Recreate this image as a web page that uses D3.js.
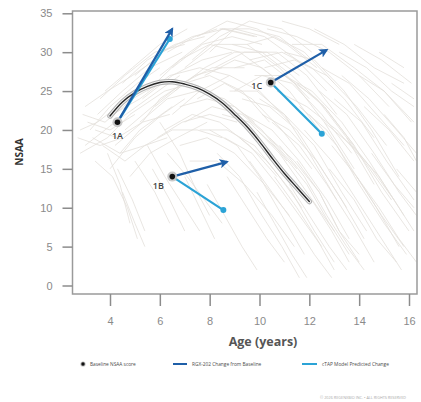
<!DOCTYPE html>
<html>
<head>
<meta charset="utf-8">
<script src="https://cdn.jsdelivr.net/npm/d3@7.9.0/dist/d3.min.js"></script>
<style>
  body { margin: 0; background: #fff; }
  svg { display: block; font-family: "Open Sans", "Noto Sans", sans-serif; }
</style>
</head>
<body>
<svg id="chart" width="421" height="402"></svg>
<script>
// tick labels
const xTicks = [4, 6, 8, 10, 12, 14, 16];
const yTicks = [0, 5, 10, 15, 20, 25, 30, 35];

// natural history trajectories (age, NSAA)
const history = [
  [[3.0,18],[4.2,21],[5.5,24],[6.8,27]],
  [[3.2,20],[4.0,23],[5.1,26],[6.0,28]],
  [[2.8,17],[3.9,19],[4.8,22],[6.2,25],[7.3,26]],
  [[3.5,22],[4.5,25],[5.6,28],[6.9,30]],
  [[4.0,15],[5.0,19],[6.1,22],[7.0,24]],
  [[3.3,19],[4.4,17],[5.2,20],[6.5,23]],
  [[4.5,26],[5.5,29],[6.6,31],[7.8,32]],
  [[3.6,24],[4.6,27],[5.8,30],[7.0,31]],
  [[4.2,18],[5.3,21],[6.0,24],[7.4,27],[8.5,28]],
  [[2.9,22],[3.8,21],[4.9,24],[6.0,26]],
  [[4.8,14],[5.6,17],[6.7,19],[7.9,21]],
  [[3.4,16],[4.1,14],[4.7,10],[5.1,6]],
  [[4.3,15],[4.9,11],[5.4,7]],
  [[5.0,16],[5.8,12],[6.4,8]],
  [[3.9,17],[4.4,13],[4.8,8]],
  [[5.5,18],[6.2,14],[7.0,10],[7.6,7]],
  [[6.0,21],[6.8,17],[7.5,12],[8.0,9]],
  [[5.5,25],[6.8,29],[8.0,31],[9.2,30],[10.5,27]],
  [[6.0,27],[7.2,30],[8.5,33],[9.8,32]],
  [[6.5,22],[7.6,25],[8.8,27],[10.0,25],[11.2,21]],
  [[7.0,28],[8.2,31],[9.5,31],[10.8,28],[12.0,24]],
  [[6.2,20],[7.3,22],[8.4,21],[9.6,18],[10.7,14]],
  [[7.5,24],[8.6,26],[9.7,24],[10.9,20],[12.1,15]],
  [[8.0,30],[9.0,33],[10.2,32],[11.5,29],[12.7,25]],
  [[5.8,23],[7.0,26],[8.0,27],[9.3,25],[10.4,21]],
  [[6.8,18],[7.9,19],[9.0,17],[10.2,13],[11.2,9]],
  [[7.2,16],[8.3,16],[9.4,13],[10.5,9],[11.4,5]],
  [[8.5,22],[9.6,21],[10.8,17],[11.9,12],[13.0,7]],
  [[8.0,20],[9.1,18],[10.0,14],[10.9,9],[11.8,4]],
  [[9.0,28],[10.2,29],[11.4,26],[12.6,21],[13.8,15]],
  [[9.5,31],[10.6,32],[11.8,30],[13.0,26]],
  [[10.0,24],[11.0,22],[12.2,18],[13.3,12],[14.3,7]],
  [[7.8,27],[9.0,29],[10.1,28],[11.2,25],[12.4,20]],
  [[8.8,25],[9.9,25],[11.0,22],[12.0,17],[13.1,11]],
  [[9.2,19],[10.3,16],[11.3,12],[12.2,7],[13.0,3]],
  [[8.3,17],[9.2,14],[10.1,9],[10.9,5],[11.6,1]],
  [[10.5,21],[11.6,18],[12.7,13],[13.7,8],[14.6,3]],
  [[9.8,27],[11.0,27],[12.3,24],[13.5,19],[14.6,13]],
  [[11.0,30],[12.2,29],[13.4,25],[14.5,20],[15.6,14]],
  [[11.5,26],[12.6,23],[13.8,18],[14.9,12],[16.0,7]],
  [[12.0,22],[13.1,18],[14.0,13],[15.0,8],[15.9,4]],
  [[10.8,18],[11.8,14],[12.7,9],[13.5,5],[14.2,2]],
  [[12.5,28],[13.6,26],[14.7,22],[15.8,18]],
  [[13.0,24],[14.1,21],[15.1,16],[16.2,11]],
  [[13.5,19],[14.5,15],[15.4,11],[16.2,7]],
  [[14.0,27],[15.0,25],[16.1,21]],
  [[12.8,15],[13.8,11],[14.7,6],[15.5,3]],
  [[11.2,13],[12.0,9],[12.8,5],[13.5,2]],
  [[9.9,12],[10.6,8],[11.3,4],[11.9,1]],
  [[7.5,32],[8.7,34],[9.9,33],[11.1,31],[12.3,28]],
  [[10.3,33],[11.5,32],[12.8,30],[14.0,27],[15.2,23]],
  [[6.3,30],[7.4,32],[8.3,33]],
  [[14.5,17],[15.4,13],[16.2,10]],
  [[15.0,22],[15.8,19],[16.3,16]],
  [[8.9,31],[10.1,30],[11.3,27],[12.6,23],[13.8,18]],
  [[7.0,21],[8.1,23],[9.3,22],[10.4,19],[11.5,15]],
  [[5.2,21],[6.3,24],[7.5,25],[8.6,24],[9.8,21]],
  [[11.8,20],[12.9,16],[13.9,11],[14.9,6],[15.7,2]],
  [[10.7,25],[11.9,23],[13.1,20],[14.2,16],[15.3,11]],
  [[9.4,22],[10.5,20],[11.6,16],[12.7,11],[13.6,6]],
  [[13.2,30],[14.3,28],[15.3,25],[16.2,23]],
  [[4.6,20],[5.7,23],[6.9,26],[8.1,28],[9.4,28]],
  [[3.1,21],[4.0,20],[5.0,22]],
  [[2.7,19],[3.6,18],[4.5,19]],
  [[3.8,25],[4.9,28],[6.0,31],[7.1,33]],
  [[5.0,27],[6.1,30],[7.3,32],[8.6,33],[9.9,32]],
  [[6.6,25],[7.8,28],[9.0,30],[10.3,30],[11.6,27]],
  [[7.3,29],[8.4,32],[9.6,34],[10.9,33],[12.1,30]],
  [[8.2,28],[9.4,30],[10.7,30],[11.9,27],[13.1,22]],
  [[9.0,25],[10.1,27],[11.3,26],[12.5,22],[13.7,17]],
  [[9.6,29],[10.9,30],[12.1,28],[13.4,24],[14.6,19]],
  [[10.2,28],[11.4,29],[12.7,27],[13.9,23],[15.1,18]],
  [[11.3,31],[12.5,31],[13.8,28],[15.0,25],[16.2,21]],
  [[12.2,33],[13.4,31],[14.6,28],[15.8,26]],
  [[10.9,34],[12.0,33],[13.2,31]],
  [[13.8,31],[14.9,29],[16.1,26]],
  [[12.4,25],[13.5,22],[14.6,17],[15.6,12],[16.3,9]],
  [[11.6,23],[12.7,20],[13.7,15],[14.7,10],[15.6,5]],
  [[10.4,19],[11.4,16],[12.4,12],[13.2,7],[14.0,4]],
  [[9.6,16],[10.5,12],[11.4,8],[12.2,4],[12.9,1]],
  [[8.7,14],[9.5,10],[10.3,6],[11.0,3]],
  [[7.9,13],[8.6,9],[9.3,5],[9.9,2]],
  [[7.0,14],[7.6,10],[8.2,6]],
  [[6.3,17],[7.1,14],[7.8,11],[8.5,8]],
  [[5.7,15],[6.4,11],[7.0,7]],
  [[4.5,12],[5.0,8],[5.4,5]],
  [[6.8,23],[7.9,24],[9.0,23],[10.1,20],[11.1,16]],
  [[7.6,20],[8.7,20],[9.8,18],[10.8,14],[11.7,10]],
  [[8.6,19],[9.7,17],[10.7,13],[11.6,9],[12.5,5]],
  [[9.3,24],[10.4,23],[11.5,20],[12.5,15],[13.5,10]],
  [[10.1,22],[11.2,20],[12.3,16],[13.3,11],[14.2,6]],
  [[11.0,27],[12.1,25],[13.3,21],[14.4,16],[15.4,11]],
  [[12.6,21],[13.7,18],[14.8,14],[15.8,9]],
  [[13.3,27],[14.4,24],[15.5,20],[16.3,17]],
  [[14.2,23],[15.2,20],[16.2,16]],
  [[13.9,14],[14.8,10],[15.6,6],[16.3,3]],
  [[12.9,18],[13.9,14],[14.9,9],[15.8,5]],
  [[14.8,30],[15.8,28]],
  [[15.3,26],[16.2,24]],
  [[5.3,24],[6.5,27],[7.7,29],[8.9,30]],
  [[4.1,22],[5.2,24],[6.4,27],[7.6,28],[8.8,27]],
  [[3.0,23],[3.9,25],[4.9,27],[5.8,29]],
  [[3.4,20],[4.3,19],[5.3,21],[6.4,22]],
  [[2.8,20],[3.5,21],[4.3,23]],
  [[3.7,18],[4.6,16],[5.4,18],[6.3,19]],
  [[5.9,19],[6.9,21],[8.0,22],[9.1,21]],
  [[4.4,17],[5.4,18],[6.5,20],[7.5,20],[8.5,19]],
  [[6.5,28],[7.7,31],[8.9,32],[10.1,31]],
  [[8.4,33],[9.6,33],[10.8,32],[12.0,29]],
  [[9.9,20],[10.9,17],[11.9,13],[12.8,8],[13.6,4]],
  [[11.5,16],[12.4,12],[13.2,7],[14.0,3]],
  [[10.6,14],[11.5,10],[12.3,6],[13.0,2]],
  [[12.1,11],[12.9,7],[13.6,3]],
  [[15.5,15],[16.3,12]]
];

// mean natural history curve
const meanAge   = [4.0, 4.5, 5.0, 5.5, 6.0, 6.5, 7.0, 7.5, 8.0, 8.5, 9.0, 9.5, 10.0, 10.5, 11.0, 11.5, 12.0];
const meanScore = [21.8, 23.6, 24.8, 25.6, 26.1, 26.2, 25.9, 25.4, 24.6, 23.5, 22.0, 20.4, 18.5, 16.4, 14.4, 12.6, 10.8];

// patients: baseline, RGX-202 change, model predicted change
const patients     = ['1A', '1B', '1C'];
const baseAge      = [4.3, 6.5, 10.45];
const baseScore    = [21, 14, 26.1];
const rgxAge       = [6.5, 8.7, 12.7];
const rgxScore     = [33, 15.9, 30.3];
const ctapAge      = [6.4, 8.55, 12.5];
const ctapScore    = [31.7, 9.7, 19.5];

const darkBlue = '#1f5fa8';
const lightBlue = '#2ba3d6';

const svg = d3.select('#chart');
const x = d3.scaleLinear().domain([4, 16]).range([110, 409]);
const y = d3.scaleLinear().domain([0, 35]).range([285.5, 13.3]);

const frame = { left: 72.5, top: 11, right: 417, bottom: 294 };

const defs = svg.append('defs');
defs.append('clipPath').attr('id', 'plot')
  .append('rect')
  .attr('x', frame.left).attr('y', frame.top)
  .attr('width', frame.right - frame.left).attr('height', frame.bottom - frame.top);
defs.append('marker')
  .attr('id', 'arrow')
  .attr('viewBox', '0 0 10 10')
  .attr('refX', 8).attr('refY', 5)
  .attr('markerWidth', 4.2).attr('markerHeight', 4.2)
  .attr('orient', 'auto')
  .append('path')
  .attr('d', 'M0,0 L10,5 L0,10 L2.5,5 Z')
  .attr('fill', darkBlue);

const plot = svg.append('g').attr('clip-path', 'url(#plot)');

// spaghetti
const line = d3.line().x(d => x(d[0])).y(d => y(d[1]));
plot.selectAll('path.hist')
  .data(history)
  .join('path')
  .attr('class', 'hist')
  .attr('d', line)
  .attr('fill', 'none')
  .attr('stroke', '#e3dfdb')
  .attr('stroke-width', 0.8);

// mean curve with band
const meanData = meanAge.map((a, i) => [a, meanScore[i]]);
const smooth = d3.line().x(d => x(d[0])).y(d => y(d[1])).curve(d3.curveCatmullRom);
plot.append('path').attr('d', smooth(meanData))
  .attr('fill', 'none').attr('stroke', '#b3b3b3').attr('stroke-width', 5.5).attr('stroke-linecap', 'round');
plot.append('path').attr('d', smooth(meanData))
  .attr('fill', 'none').attr('stroke', '#f4f4f4').attr('stroke-width', 3.4).attr('stroke-linecap', 'round');
plot.append('path').attr('d', smooth(meanData))
  .attr('fill', 'none').attr('stroke', '#262626').attr('stroke-width', 1.4).attr('stroke-linecap', 'round');

// frame and axes
svg.append('rect')
  .attr('x', frame.left).attr('y', frame.top)
  .attr('width', frame.right - frame.left).attr('height', frame.bottom - frame.top)
  .attr('fill', 'none').attr('stroke', '#9a9a9a').attr('stroke-width', 1.5);

const yAxis = svg.append('g')
  .attr('transform', `translate(${frame.left},0)`)
  .call(d3.axisLeft(y).tickValues(yTicks).tickSize(10).tickPadding(10));
const xAxis = svg.append('g')
  .attr('transform', `translate(0,${frame.bottom})`)
  .call(d3.axisBottom(x).tickValues(xTicks).tickSize(12).tickPadding(11));
[yAxis, xAxis].forEach(g => {
  g.select('.domain').remove();
  g.selectAll('line').attr('stroke', '#8c8c8c').attr('stroke-width', 1.5);
  g.selectAll('text').attr('fill', '#8a8a8a').attr('font-size', 11);
});

// axis titles
svg.append('text')
  .attr('transform', 'translate(23,152) rotate(-90)')
  .attr('text-anchor', 'middle')
  .attr('font-size', 10).attr('font-weight', 700).attr('fill', '#333')
  .text('NSAA');
svg.append('text')
  .attr('x', 263).attr('y', 346)
  .attr('text-anchor', 'middle')
  .attr('font-size', 12.5).attr('font-weight', 700).attr('fill', '#555')
  .text('Age (years)');

// patient changes
const pg = svg.append('g');
patients.forEach((p, i) => {
  pg.append('line')
    .attr('x1', x(baseAge[i])).attr('y1', y(baseScore[i]))
    .attr('x2', x(ctapAge[i])).attr('y2', y(ctapScore[i]))
    .attr('stroke', lightBlue).attr('stroke-width', 2.2);
  pg.append('circle')
    .attr('cx', x(ctapAge[i])).attr('cy', y(ctapScore[i])).attr('r', 3)
    .attr('fill', lightBlue);
  pg.append('line')
    .attr('x1', x(baseAge[i])).attr('y1', y(baseScore[i]))
    .attr('x2', x(rgxAge[i])).attr('y2', y(rgxScore[i]))
    .attr('stroke', darkBlue).attr('stroke-width', 2.2)
    .attr('marker-end', 'url(#arrow)');
  pg.append('circle')
    .attr('cx', x(baseAge[i])).attr('cy', y(baseScore[i])).attr('r', 5)
    .attr('fill', '#c4c4c4').attr('opacity', 0.9);
  pg.append('circle')
    .attr('cx', x(baseAge[i])).attr('cy', y(baseScore[i])).attr('r', 2.8)
    .attr('fill', '#111');
});
const labelPos = [[0, 17], [-14, 12], [-14, 6]];
patients.forEach((p, i) => {
  pg.append('text')
    .attr('x', x(baseAge[i]) + labelPos[i][0]).attr('y', y(baseScore[i]) + labelPos[i][1])
    .attr('text-anchor', 'middle')
    .attr('font-size', 9).attr('font-weight', 600).attr('fill', '#444')
    .text(p);
});

// legend
const lg = svg.append('g').attr('font-size', 4.8).attr('fill', '#4a4a4a');
lg.append('circle').attr('cx', 83).attr('cy', 364).attr('r', 2.6).attr('fill', '#bbb');
lg.append('circle').attr('cx', 83).attr('cy', 364).attr('r', 1.7).attr('fill', '#111');
lg.append('text').attr('x', 90).attr('y', 365.7).text('Baseline NSAA score');
lg.append('line').attr('x1', 173).attr('x2', 187).attr('y1', 364).attr('y2', 364)
  .attr('stroke', darkBlue).attr('stroke-width', 2);
lg.append('text').attr('x', 192).attr('y', 365.7).text('RGX-202 Change from Baseline');
lg.append('line').attr('x1', 302).attr('x2', 317).attr('y1', 364).attr('y2', 364)
  .attr('stroke', lightBlue).attr('stroke-width', 2);
lg.append('text').attr('x', 322).attr('y', 365.7).text('cTAP Model Predicted Change');

svg.append('text')
  .attr('x', 406).attr('y', 398.5)
  .attr('text-anchor', 'end')
  .attr('font-size', 3.8).attr('fill', '#aaa')
  .text('© 2026 REGENXBIO INC. • ALL RIGHTS RESERVED');
</script>
</body>
</html>
